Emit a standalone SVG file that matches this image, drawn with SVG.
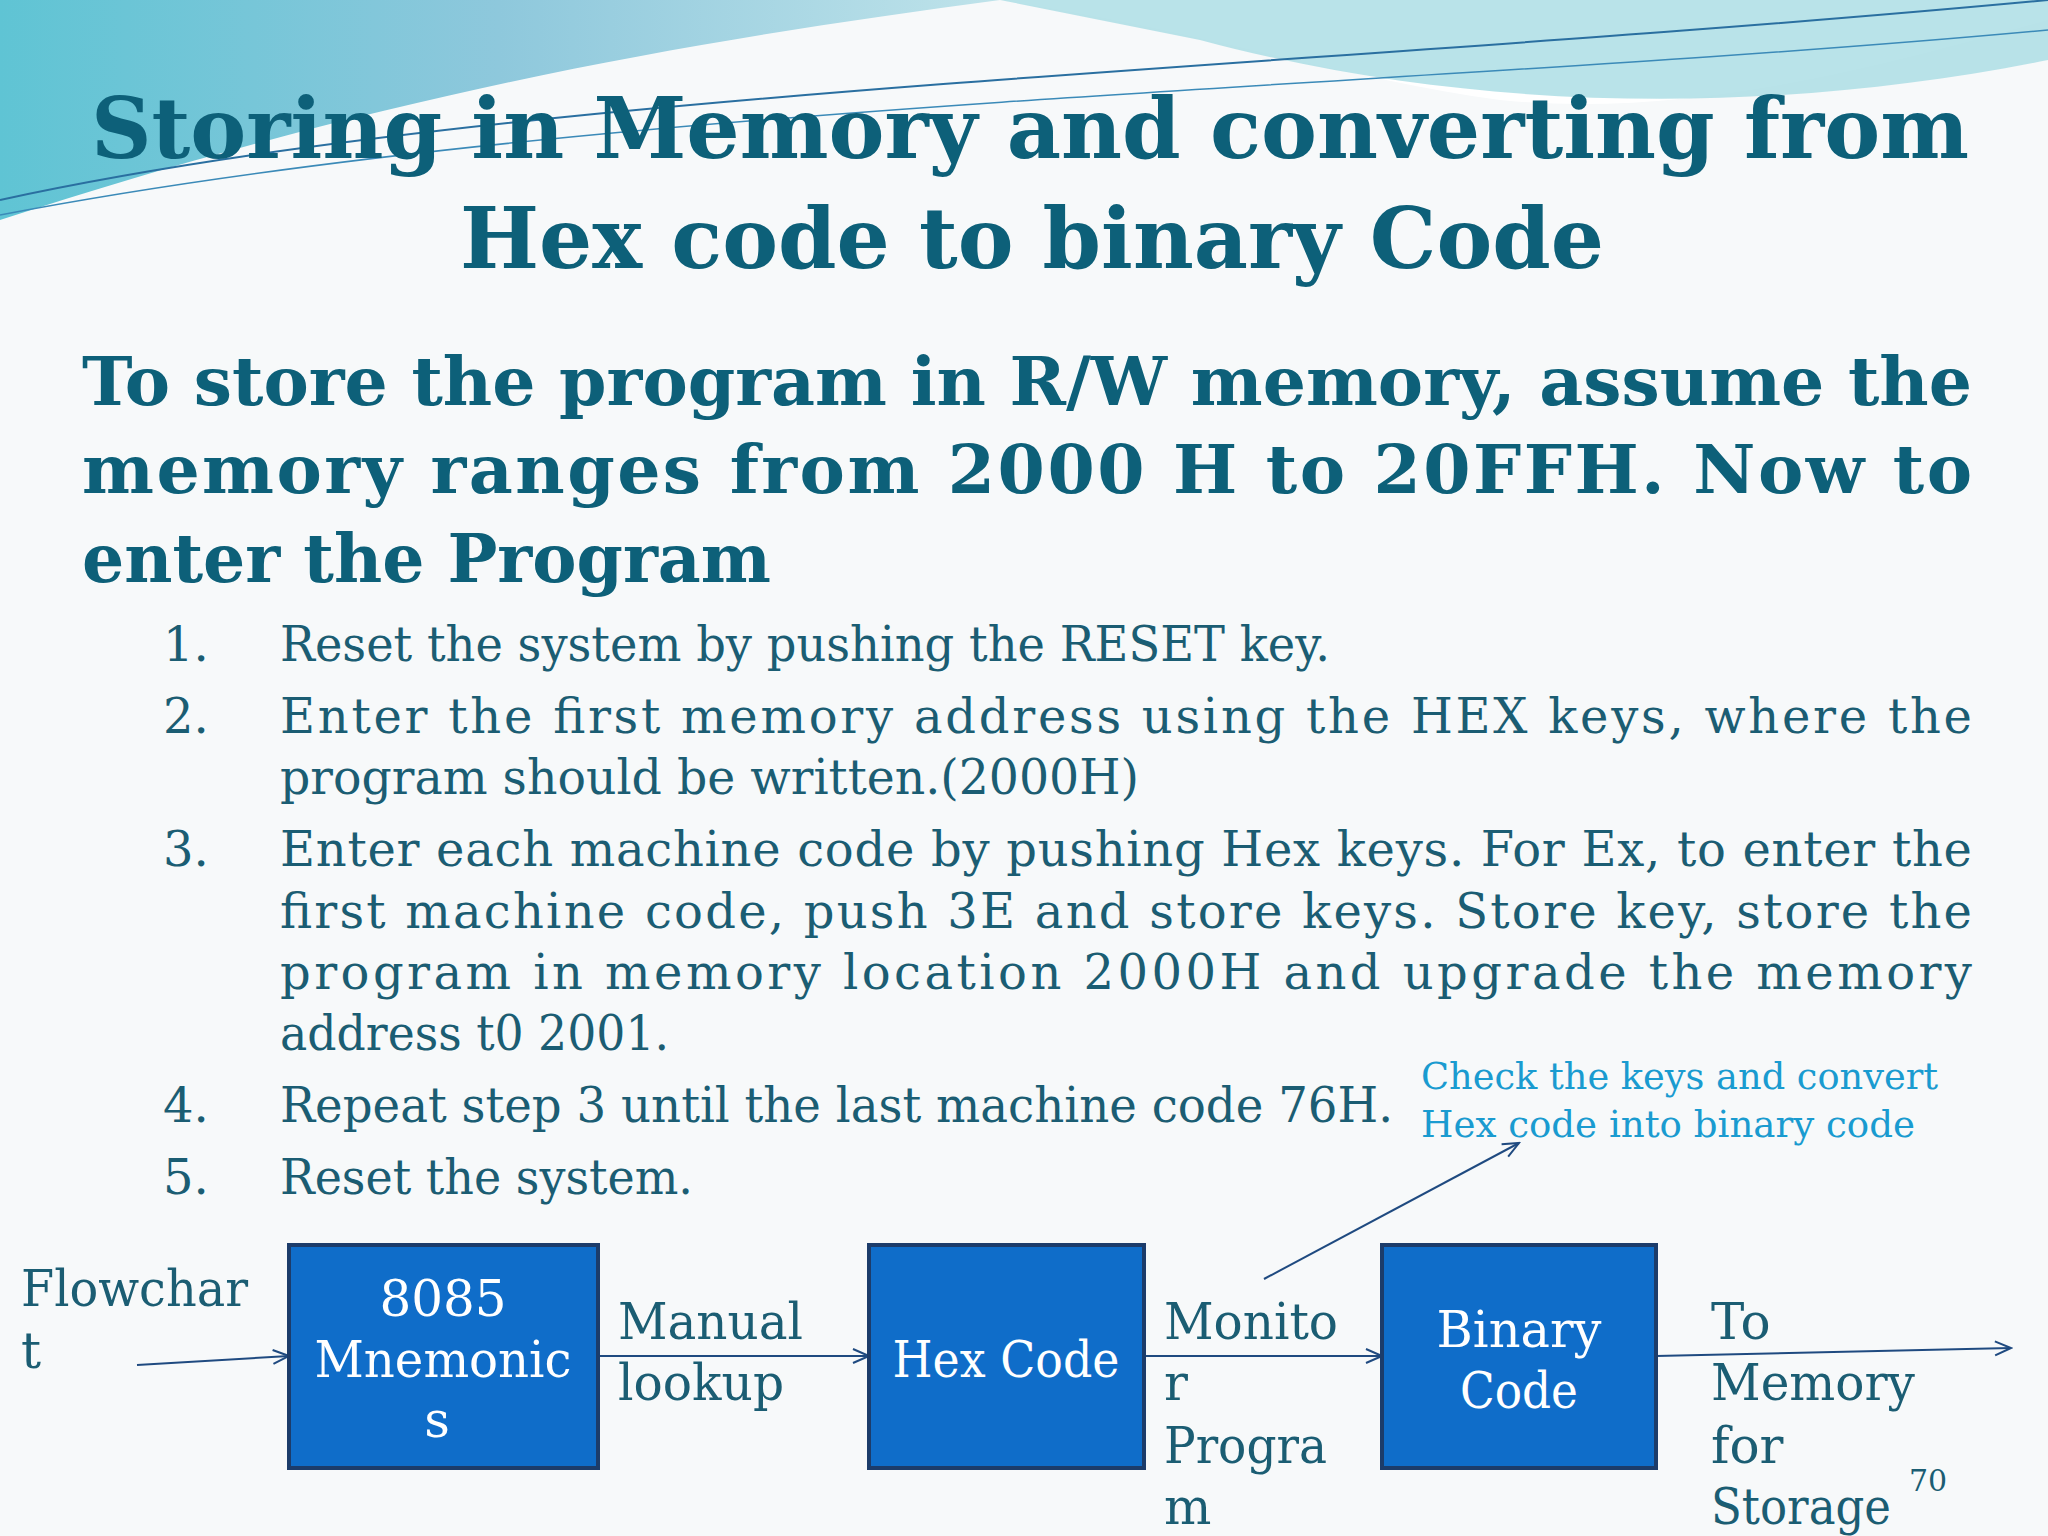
<svg xmlns="http://www.w3.org/2000/svg" width="2048" height="1536" viewBox="0 0 2048 1536">
<style>
.t{font-family:"DejaVu Serif","Liberation Serif",serif;font-weight:bold;fill:#0d6079}
.b{font-family:"DejaVu Serif","Liberation Serif",serif;fill:#1b5d73;font-size:48px}
.n{font-family:"DejaVu Serif","Liberation Serif",serif;fill:#1a9bd0;font-size:38px}
.l{font-family:"DejaVu Serif","Liberation Serif",serif;fill:#1b5d73;font-size:50px}
.w{font-family:"DejaVu Serif","Liberation Serif",serif;fill:#ffffff;font-size:50px}
.box{fill:#0f6dc9;stroke:#1c3c6a;stroke-width:4}
.c{stroke:#1f4a80;stroke-width:2;fill:none;marker-end:url(#a)}
</style>
<defs>
<linearGradient id="g" x1="0" y1="0" x2="1" y2="0">
<stop offset="0" stop-color="#5fc4d4"/><stop offset="0.5" stop-color="#8ec8dc"/><stop offset="1" stop-color="#bfe3ea"/>
</linearGradient>
<marker id="a" markerWidth="20" markerHeight="20" refX="18" refY="10" orient="auto" markerUnits="userSpaceOnUse">
<path d="M2,3 L18,10 L2,17" fill="none" stroke="#1f4a80" stroke-width="2"/>
</marker>
</defs>
<rect width="2048" height="1536" fill="#f7f9fa"/>
<path d="M0,0 L1000,0 C1200,30 1350,80 1500,100 C1700,120 1900,60 2048,20 L2048,0 Z" fill="#ffffff"/>
<path d="M0,0 L1000,0 C700,40 400,90 0,220 Z" fill="url(#g)"/>
<path d="M1000,0 L2048,0 L2048,60 C1800,110 1500,120 1200,40 Z" fill="#a8dce4" opacity="0.8"/>
<path d="M0,200 C500,90 1300,70 2048,0" stroke="#2a6fa0" stroke-width="2" fill="none"/>
<path d="M0,215 C600,100 1400,90 2048,30" stroke="#3b8ab8" stroke-width="1.5" fill="none"/>
<g id="title">
<text class="t" x="91" y="158" font-size="84" textLength="1878" lengthAdjust="spacingAndGlyphs">Storing in Memory and converting from</text>
<text class="t" x="460" y="268" font-size="84" textLength="1144" lengthAdjust="spacingAndGlyphs">Hex code to binary Code</text>
</g>
<g id="para">
<text class="t" x="82" y="405" font-size="68" textLength="1890" lengthAdjust="spacingAndGlyphs">To store the program in R/W memory, assume the</text>
<text class="t" x="82" y="493" font-size="68" textLength="1890" lengthAdjust="spacing">memory ranges from 2000 H to 20FFH. Now to</text>
<text class="t" x="82" y="582" font-size="68" textLength="689" lengthAdjust="spacingAndGlyphs">enter the Program</text>
</g>
<g id="list">
<text class="b" x="163" y="661">1.</text>
<text class="b" x="280" y="661" textLength="1050" lengthAdjust="spacingAndGlyphs">Reset the system by pushing the RESET key.</text>
<text class="b" x="163" y="733">2.</text>
<text class="b" x="280" y="733" textLength="1692" lengthAdjust="spacing">Enter the first memory address using the HEX keys, where the</text>
<text class="b" x="280" y="794" textLength="859" lengthAdjust="spacingAndGlyphs">program should be written.(2000H)</text>
<text class="b" x="163" y="866">3.</text>
<text class="b" x="280" y="866" textLength="1692" lengthAdjust="spacing">Enter each machine code by pushing Hex keys. For Ex, to enter the</text>
<text class="b" x="280" y="928" textLength="1692" lengthAdjust="spacing">first machine code, push 3E and store keys. Store key, store the</text>
<text class="b" x="280" y="989" textLength="1692" lengthAdjust="spacing">program in memory location 2000H and upgrade the memory</text>
<text class="b" x="280" y="1050" textLength="389" lengthAdjust="spacingAndGlyphs">address t0 2001.</text>
<text class="b" x="163" y="1122">4.</text>
<text class="b" x="280" y="1122" textLength="1113" lengthAdjust="spacingAndGlyphs">Repeat step 3 until the last machine code 76H.</text>
<text class="b" x="163" y="1194">5.</text>
<text class="b" x="280" y="1194" textLength="413" lengthAdjust="spacingAndGlyphs">Reset the system.</text>
</g>
<g id="note">
<text class="n" x="1421" y="1089" textLength="517" lengthAdjust="spacingAndGlyphs">Check the keys and convert</text>
<text class="n" x="1421" y="1137" textLength="494" lengthAdjust="spacingAndGlyphs">Hex code into binary code</text>
</g>
<g id="connectors">
<line class="c" x1="137" y1="1365" x2="289" y2="1356"/>
<line class="c" x1="598" y1="1356" x2="869" y2="1356"/>
<line class="c" x1="1144" y1="1356" x2="1382" y2="1356"/>
<line class="c" x1="1656" y1="1356" x2="2011" y2="1348"/>
<line class="c" x1="1264" y1="1279" x2="1519" y2="1143"/>
</g>
<g id="n1"><rect class="box" x="289" y="1245" width="309" height="223"/>
<text class="w" x="443" y="1316" text-anchor="middle">8085</text>
<text class="w" x="443" y="1377" text-anchor="middle" textLength="257" lengthAdjust="spacingAndGlyphs">Mnemonic</text>
<text class="w" x="437" y="1437" text-anchor="middle">s</text></g>
<g id="n2"><rect class="box" x="869" y="1245" width="275" height="223"/>
<text class="w" x="1006" y="1377" text-anchor="middle" textLength="227" lengthAdjust="spacingAndGlyphs">Hex Code</text></g>
<g id="n3"><rect class="box" x="1382" y="1245" width="274" height="223"/>
<text class="w" x="1519" y="1347" text-anchor="middle" textLength="165" lengthAdjust="spacingAndGlyphs">Binary</text>
<text class="w" x="1519" y="1408" text-anchor="middle" textLength="118" lengthAdjust="spacingAndGlyphs">Code</text></g>
<g id="labels">
<text class="l" x="21" y="1306" textLength="227" lengthAdjust="spacingAndGlyphs">Flowchar</text>
<text class="l" x="21" y="1368">t</text>
<text class="l" x="618" y="1339" textLength="185" lengthAdjust="spacingAndGlyphs">Manual</text>
<text class="l" x="618" y="1400" textLength="166" lengthAdjust="spacingAndGlyphs">lookup</text>
<text class="l" x="1164" y="1339" textLength="174" lengthAdjust="spacingAndGlyphs">Monito</text>
<text class="l" x="1164" y="1400">r</text>
<text class="l" x="1164" y="1463" textLength="163" lengthAdjust="spacingAndGlyphs">Progra</text>
<text class="l" x="1164" y="1524">m</text>
<text class="l" x="1711" y="1339">To</text>
<text class="l" x="1711" y="1400" textLength="204" lengthAdjust="spacingAndGlyphs">Memory</text>
<text class="l" x="1711" y="1463">for</text>
<text class="l" x="1711" y="1524" textLength="180" lengthAdjust="spacingAndGlyphs">Storage</text>
<text class="l" x="1909" y="1491" style="font-size:30px">70</text>
</g>
</svg>
